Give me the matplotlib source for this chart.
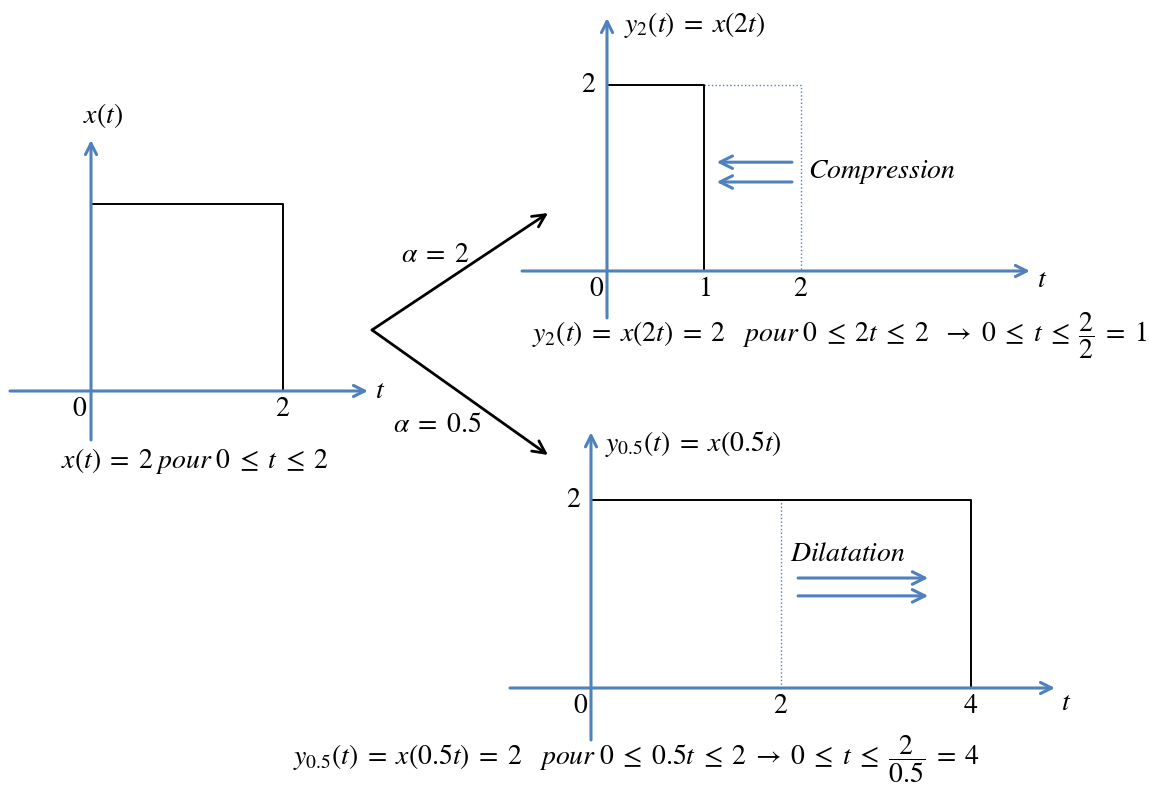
import matplotlib
matplotlib.use("Agg")
import matplotlib.pyplot as plt

W, H = 1154, 785
BLUE = "#4f81bd"
FS = 20

# pulse shapes (time, amplitude)
X_T = [0, 0, 2, 2]
X_V = [0, 2, 2, 0]
Y2_T = [0, 0, 1, 1]
Y2_V = [0, 2, 2, 0]
Y05_T = [0, 0, 4, 4]
Y05_V = [0, 2, 2, 0]

# the original pulse shown dotted behind each scaled one
Y2_GHOST_T = [1, 2, 2]
Y2_GHOST_V = [2, 2, 0]
Y05_GHOST_T = [2, 2]
Y05_GHOST_V = [0, 2]

ALPHA_LABELS = [r"$\alpha\;=\;2$", r"$\alpha\;=\;0.5$"]

X_TICKS = [0, 2]
Y2_TICKS = [0, 1, 2]
Y05_TICKS = [0, 2, 4]
AMP_TICK = 2

plt.rcParams["mathtext.fontset"] = "stix"
plt.rcParams["font.family"] = "STIXGeneral"

EQ = r"\;=\;"
LE = r"\;\leq\;"


def panel(fig, origin, sx, sy, box):
    # box in pixels (left, top, right, bottom), origin in pixels
    x0, y0, x1, y1 = box
    ox, oy = origin
    ax = fig.add_axes([x0 / W, 1 - y1 / H, (x1 - x0) / W, (y1 - y0) / H])
    ax.set_xlim((x0 - ox) / sx, (x1 - ox) / sx)
    ax.set_ylim((oy - y1) / sy, (oy - y0) / sy)
    ax.axis("off")
    return ax


def draw_axes(ax, xr, yr):
    head = "->,head_length=0.8,head_width=0.4"
    ax.annotate("", xy=(xr[1], 0), xytext=(xr[0], 0),
                arrowprops=dict(arrowstyle=head, lw=2.2, color=BLUE,
                                shrinkA=0, shrinkB=0))
    ax.annotate("", xy=(0, yr[1]), xytext=(0, yr[0]),
                arrowprops=dict(arrowstyle=head, lw=2.2, color=BLUE,
                                shrinkA=0, shrinkB=0))


def hint_arrow(ax, start, end):
    ax.annotate("", xy=end, xytext=start,
                arrowprops=dict(arrowstyle="->,head_length=0.9,head_width=0.45",
                                lw=2.2, color=BLUE, shrinkA=0, shrinkB=0))


fig = plt.figure(figsize=(W / 100, H / 100), dpi=100)

# ---- x(t) ----
ax1 = panel(fig, (91, 391), 96, 93.5, (0, 90, 400, 480))
ax1.plot(X_T, X_V, color="black", lw=1.4)
draw_axes(ax1, (-0.844, 2.885), (-0.524, 2.684))
for t in X_TICKS:
    ax1.text(t - (0.12 if t == 0 else 0), -0.06, f"${t}$", ha="center",
             va="top", fontsize=FS)
ax1.text(2.96, 0, r"$t$", ha="left", va="center", fontsize=FS)
ax1.text(0.12, 2.95, r"$x(t)$", ha="center", va="center", fontsize=FS)
ax1.text(1.08, -0.75, r"$x(t)" + EQ + r"2\;pour\;0" + LE + "t" + LE + "2$",
         ha="center", va="center", fontsize=FS)

# ---- y2(t) = x(2t) ----
ax2 = panel(fig, (607, 271), 97, 93, (500, 0, 1154, 380))
ax2.plot(Y2_GHOST_T, Y2_GHOST_V, color=BLUE, lw=1.0, ls=":")
ax2.plot(Y2_T, Y2_V, color="black", lw=1.4)
draw_axes(ax2, (-0.876, 4.36), (-0.505, 2.72))
for t in Y2_TICKS:
    ax2.text(t - (0.11 if t == 0 else 0), -0.06, f"${t}$", ha="center",
             va="top", fontsize=FS)
ax2.text(-0.19, AMP_TICK, f"${AMP_TICK}$", ha="center", va="center", fontsize=FS)
ax2.text(4.43, -0.1, r"$t$", ha="left", va="center", fontsize=FS)
ax2.text(0.18, 2.65, r"$y_2(t)" + EQ + "x(2t)$", ha="left", va="center",
         fontsize=FS)
hint_arrow(ax2, (1.907, 1.17), (1.13, 1.17))
hint_arrow(ax2, (1.907, 0.957), (1.13, 0.957))
ax2.text(2.07, 1.06, r"$Compression$", ha="left", va="center", fontsize=FS)
ax2.text(-0.77, -0.69,
         r"$y_2(t)" + EQ + "x(2t)" + EQ + r"2\ \ \ pour\;0" + LE + "2t" + LE
         + r"2\ \ \rightarrow\;0" + LE + "t" + LE + r"\dfrac{2}{2}" + EQ + "1$",
         ha="left", va="center", fontsize=FS)

# ---- y0.5(t) = x(0.5t) ----
ax3 = panel(fig, (591, 688), 95, 94, (270, 420, 1154, 785))
ax3.plot(Y05_GHOST_T, Y05_GHOST_V, color=BLUE, lw=1.0, ls=":")
ax3.plot(Y05_T, Y05_V, color="black", lw=1.4)
draw_axes(ax3, (-0.853, 4.884), (-0.553, 2.72))
for t in Y05_TICKS:
    ax3.text(t - (0.11 if t == 0 else 0), -0.06, f"${t}$", ha="center",
             va="top", fontsize=FS)
ax3.text(-0.18, AMP_TICK, f"${AMP_TICK}$", ha="center", va="center", fontsize=FS)
ax3.text(4.95, -0.16, r"$t$", ha="left", va="center", fontsize=FS)
ax3.text(0.15, 2.6, r"$y_{0.5}(t)" + EQ + "x(0.5t)$", ha="left", va="center",
         fontsize=FS)
hint_arrow(ax3, (2.18, 1.17), (3.55, 1.17))
hint_arrow(ax3, (2.18, 0.98), (3.55, 0.98))
ax3.text(2.1, 1.42, r"$Dilatation$", ha="left", va="center", fontsize=FS)
ax3.text(-3.14, -0.76,
         r"$y_{0.5}(t)" + EQ + "x(0.5t)" + EQ + r"2\ \ \ pour\;0" + LE + "0.5t"
         + LE + r"2\;\rightarrow\;0" + LE + "t" + LE + r"\dfrac{2}{0.5}" + EQ
         + "4$",
         ha="left", va="center", fontsize=FS)

# ---- branching arrows (pixel overlay) ----
ov = fig.add_axes([0, 0, 1, 1])
ov.set_xlim(0, W)
ov.set_ylim(H, 0)
ov.axis("off")
ov.patch.set_alpha(0)
fork = (372, 330)
tips = [(548, 213), (548, 455)]
label_pos = [(435, 255), (437, 425)]
for tip, lab, pos in zip(tips, ALPHA_LABELS, label_pos):
    ov.annotate("", xy=tip, xytext=fork,
                arrowprops=dict(arrowstyle="->,head_length=0.9,head_width=0.45",
                                lw=2.0, color="black", shrinkA=0, shrinkB=0))
    ov.text(pos[0], pos[1], lab, ha="center", va="center", fontsize=FS)

fig.savefig("out.png", dpi=100)
